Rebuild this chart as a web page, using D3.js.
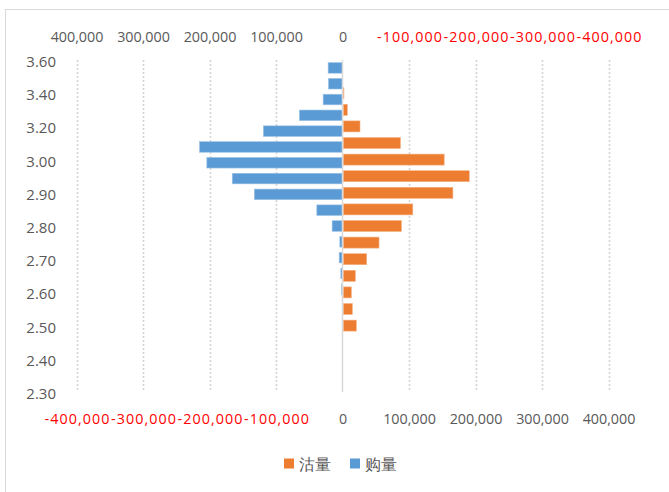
<!DOCTYPE html>
<html>
<head>
<meta charset="utf-8">
<script src="https://cdn.jsdelivr.net/npm/d3@7"></script>
<style>
  html, body { margin: 0; padding: 0; background: #fff; }
  svg { display: block; }
  text { font-family: "Open Sans", "Noto Sans", sans-serif; }
</style>
</head>
<body>
<svg id="chart" width="669" height="492"></svg>
<script>
// ---- data ----
const categories = ["3.60","3.50","3.40","3.30","3.20","3.10","3.00","2.95","2.90","2.85","2.80",
                    "2.75","2.70","2.65","2.60","2.55","2.50","2.45","2.40","2.35","2.30"];
const shownLabels = ["3.60","3.40","3.20","3.00","2.90","2.80","2.70","2.60","2.50","2.40","2.30"];
// 购量 (blue, secondary/top axis, reversed)
const buyValues  = [21600, 21100, 29100, 64800, 119000, 215000, 204000, 165800, 132600, 38600,
                    15600, 4000, 5000, 2500, 1500, 0, 0, 0, 0, 0, 0];
// 沽量 (orange, primary/bottom axis)
const sellValues = [0, 0, 1000, 6000, 25100, 85900, 151700, 189400, 164800, 104500,
                    87400, 53700, 35200, 18100, 12100, 13600, 19600, 0, 0, 0, 0];
const xTicks = [-400000, -300000, -200000, -100000, 0, 100000, 200000, 300000, 400000];
const seriesNames = ["沽量", "购量"];
const seriesColors = ["#ED7D31", "#5B9BD5"];

// ---- layout ----
const svg = d3.select("#chart");
const plot = { left: 76.5, right: 608.5, top: 60, bottom: 392 };

// chart border
svg.append("rect").attr("x", 5.5).attr("y", 9.5).attr("width", 720).attr("height", 520)
  .attr("fill", "#fff").attr("stroke", "#d9d9d9").attr("stroke-width", 1);

const xBottom = d3.scaleLinear().domain([-400000, 400000]).range([plot.left, plot.right]);
const xTop = d3.scaleLinear().domain([400000, -400000]).range([plot.left, plot.right]);
const yPoint = d3.scalePoint().domain(categories).range([plot.top, plot.bottom]);
const yBand = d3.scaleBand().domain(categories).range([plot.top, plot.bottom]).paddingInner(0.33).paddingOuter(0.165);

const fmtBase = d3.format(",");
const fmt = d => fmtBase(d).replace("\u2212", "-");

// gridlines
svg.append("g").selectAll("line").data(xTicks.filter(d => d !== 0)).join("line")
  .attr("x1", d => Math.round(xBottom(d)) + 0.5).attr("x2", d => Math.round(xBottom(d)) + 0.5)
  .attr("y1", plot.top).attr("y2", plot.bottom)
  .attr("stroke", "#d4d4d4").attr("stroke-width", 1.6).attr("stroke-dasharray", "2,2");

// blue bars (top axis, reversed)
svg.append("g").selectAll("rect").data(categories.map((c, i) => ({c, v: buyValues[i]})).filter(d => d.v > 0))
  .join("rect")
  .attr("x", d => xTop(d.v)).attr("width", d => xTop(0) - xTop(d.v))
  .attr("y", d => yBand(d.c)).attr("height", yBand.bandwidth())
  .attr("fill", seriesColors[1]).attr("stroke", "#9dc3e6").attr("stroke-width", 0.6);

// orange bars (bottom axis)
const oh = 11;
svg.append("g").selectAll("rect").data(categories.map((c, i) => ({c, v: sellValues[i]})).filter(d => d.v > 0))
  .join("rect")
  .attr("x", xBottom(0) + 0.8).attr("width", d => Math.max(0.5, xBottom(d.v) - xBottom(0)))
  .attr("y", d => yPoint(d.c) - oh / 2).attr("height", oh)
  .attr("fill", seriesColors[0]).attr("stroke", "#f4b183").attr("stroke-width", 0.6);

// zero axis line
svg.append("line").attr("x1", xBottom(0)).attr("x2", xBottom(0))
  .attr("y1", plot.top).attr("y2", plot.bottom)
  .attr("stroke", "#d9d9d9").attr("stroke-width", 1.5);

// top axis labels (reversed)
const topAxis = d3.axisTop(xTop).tickValues(xTicks).tickFormat(fmt).tickSize(0).tickPadding(0);
const gTop = svg.append("g").attr("transform", "translate(0,42)").call(topAxis);
// bottom axis labels
const bottomAxis = d3.axisBottom(xBottom).tickValues(xTicks).tickFormat(fmt).tickSize(0).tickPadding(0);
const gBot = svg.append("g").attr("transform", "translate(0,410)").call(bottomAxis);

[gTop, gBot].forEach(g => {
  g.select(".domain").remove();
  g.selectAll("text")
    .attr("font-family", "Open Sans, sans-serif").attr("font-size", 14.3)
    .attr("fill", d => d < 0 ? "#ff0000" : "#595959")
    .attr("dy", 0)
    .each(function(d) {
      if (d < 0) d3.select(this).attr("textLength", 65).attr("lengthAdjust", "spacing");
    });
});
gTop.selectAll("text").attr("y", 0);
gBot.selectAll("text").attr("y", 14);

// left category labels
const yAxis = d3.axisLeft(yPoint).tickValues(shownLabels).tickSize(0).tickPadding(0);
const gLeft = svg.append("g").attr("transform", "translate(56,0)").call(yAxis);
gLeft.select(".domain").remove();
gLeft.selectAll("text").attr("font-family", "Open Sans, sans-serif").attr("font-size", 15)
  .attr("fill", "#595959").attr("dy", 6.5).attr("x", 0);

// legend
const legend = svg.append("g");
const legX = [284, 350];
seriesNames.forEach((name, i) => {
  legend.append("rect").attr("x", legX[i]).attr("y", 458.5).attr("width", 10).attr("height", 10)
    .attr("fill", seriesColors[i]);
  legend.append("text").attr("x", legX[i] + 15).attr("y", 469.5)
    .attr("font-family", "Noto Sans CJK SC, sans-serif").attr("font-size", 16)
    .attr("fill", "#595959").text(name);
});
</script>
</body>
</html>
